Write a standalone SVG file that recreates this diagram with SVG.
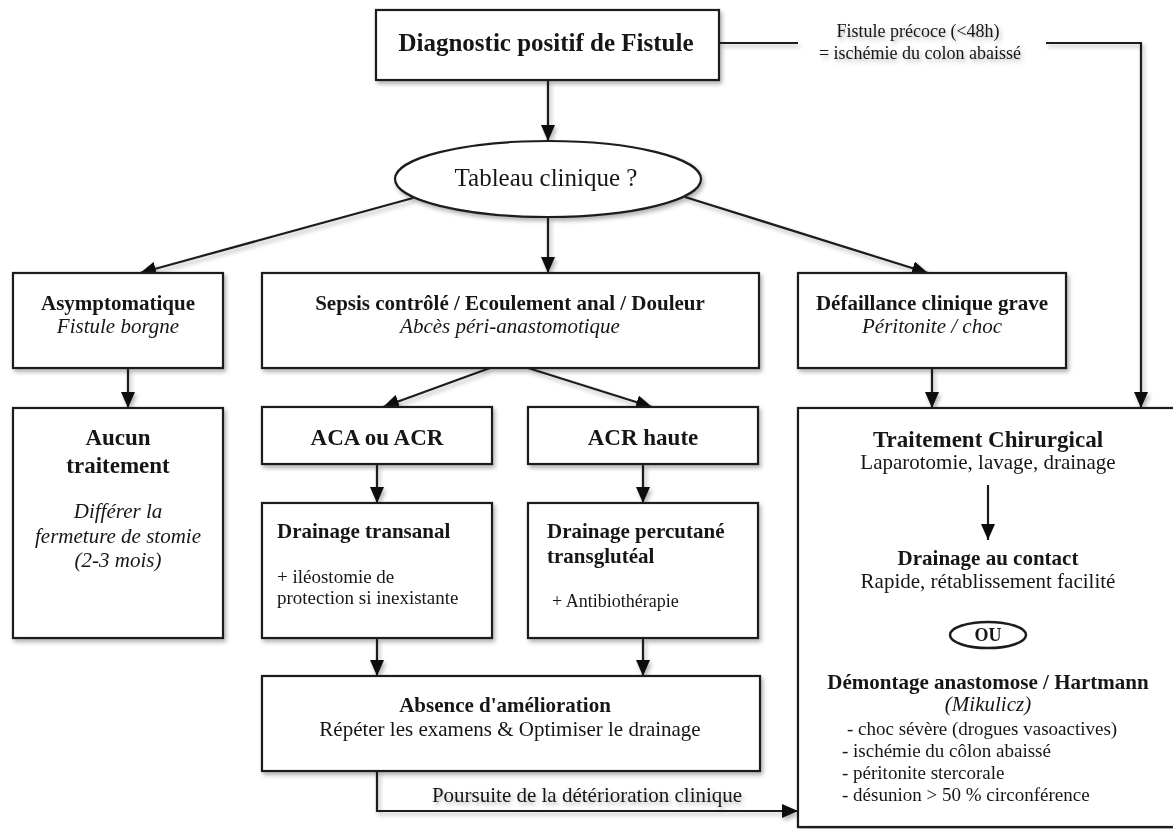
<svg xmlns="http://www.w3.org/2000/svg" width="1173" height="829" viewBox="0 0 1173 829">
  <defs>
    <filter id="soft" x="-5%" y="-20%" width="110%" height="140%">
      <feDropShadow dx="2" dy="3" stdDeviation="2" flood-color="#000" flood-opacity="0.3"/>
    </filter>
    <marker id="arr" viewBox="0 0 16 14" refX="16" refY="7" markerWidth="16" markerHeight="14" markerUnits="userSpaceOnUse" orient="auto">
      <path d="M0,0 L16,7 L0,14 z" fill="#111"/>
    </marker>
  </defs>
  <style>
    text { font-family: "Liberation Serif", "Times New Roman", serif; fill: #161616; }
    .box { fill: #fff; stroke: #1e1e1e; stroke-width: 2.2; }
    .b { font-weight: bold; }
    .i { font-style: italic; }
    .c { text-anchor: middle; }
    .edge { fill: none; stroke: #1e1e1e; stroke-width: 2.2; }
  </style>
  <rect width="1173" height="829" fill="#fff"/>

  <g filter="url(#soft)">
    <!-- connectors -->
    <g id="connectors">
      <path class="edge" d="M548,80 V141" marker-end="url(#arr)"/>
      <path class="edge" d="M413,198 L140,273" marker-end="url(#arr)"/>
      <path class="edge" d="M548,217 V273" marker-end="url(#arr)"/>
      <path class="edge" d="M685,197 L928,273" marker-end="url(#arr)"/>
      <path class="edge" d="M719,43 H798"/>
      <path class="edge" d="M1046,43 H1141 V408" marker-end="url(#arr)"/>
      <path class="edge" d="M128,368 V408" marker-end="url(#arr)"/>
      <path class="edge" d="M932,368 V408" marker-end="url(#arr)"/>
      <path class="edge" d="M490,368 L383,407" marker-end="url(#arr)"/>
      <path class="edge" d="M528,368 L652,407" marker-end="url(#arr)"/>
      <path class="edge" d="M377,464 V503" marker-end="url(#arr)"/>
      <path class="edge" d="M643,464 V503" marker-end="url(#arr)"/>
      <path class="edge" d="M377,638 V676" marker-end="url(#arr)"/>
      <path class="edge" d="M643,638 V676" marker-end="url(#arr)"/>
      <path class="edge" d="M377,771 V811 H798" marker-end="url(#arr)"/>
      <text x="918" y="37" class="c" font-size="18">Fistule précoce (&lt;48h)</text>
      <text x="920" y="59" class="c" font-size="18">= ischémie du colon abaissé</text>
      <text x="587" y="802" class="c" font-size="21">Poursuite de la détérioration clinique</text>
    </g>

    <!-- diagnosis -->
    <g id="diagnostic">
      <rect class="box" x="376" y="10" width="343" height="70"/>
      <text x="546" y="51" class="c b" font-size="25">Diagnostic positif de Fistule</text>
    </g>

    <g id="tableau">
      <ellipse cx="548" cy="179" rx="153" ry="38" fill="#fff" stroke="#1e1e1e" stroke-width="2.2"/>
      <text x="546" y="186" class="c" font-size="25">Tableau clinique ?</text>
    </g>

    <g id="asymptomatique">
      <rect class="box" x="13" y="273" width="210" height="95"/>
      <text x="118" y="310" class="c b" font-size="21">Asymptomatique</text>
      <text x="118" y="333" class="c i" font-size="21">Fistule borgne</text>
    </g>

    <g id="sepsis">
      <rect class="box" x="262" y="273" width="497" height="95"/>
      <text x="510" y="310" class="c b" font-size="21">Sepsis contrôlé / Ecoulement anal / Douleur</text>
      <text x="510" y="333" class="c i" font-size="21">Abcès péri-anastomotique</text>
    </g>

    <g id="defaillance">
      <rect class="box" x="798" y="273" width="268" height="95"/>
      <text x="932" y="310" class="c b" font-size="21">Défaillance clinique grave</text>
      <text x="932" y="333" class="c i" font-size="21">Péritonite / choc</text>
    </g>

    <g id="aucun">
      <rect class="box" x="13" y="408" width="210" height="230"/>
      <text x="118" y="445" class="c b" font-size="23">Aucun</text>
      <text x="118" y="473" class="c b" font-size="23">traitement</text>
      <text x="118" y="518" class="c i" font-size="21">Différer la</text>
      <text x="118" y="543" class="c i" font-size="21">fermeture de stomie</text>
      <text x="118" y="567" class="c i" font-size="21">(2-3 mois)</text>
    </g>

    <g id="aca">
      <rect class="box" x="262" y="407" width="230" height="57"/>
      <text x="377" y="445" class="c b" font-size="23">ACA ou ACR</text>
    </g>

    <g id="acr-haute">
      <rect class="box" x="528" y="407" width="230" height="57"/>
      <text x="643" y="445" class="c b" font-size="23">ACR haute</text>
    </g>

    <g id="drainage-transanal">
      <rect class="box" x="262" y="503" width="230" height="135"/>
      <text x="277" y="538" class="b" font-size="21">Drainage transanal</text>
      <text x="277" y="583" font-size="19">+ iléostomie de</text>
      <text x="277" y="604" font-size="19">protection si inexistante</text>
    </g>

    <g id="drainage-percutane">
      <rect class="box" x="528" y="503" width="230" height="135"/>
      <text x="547" y="538" class="b" font-size="21">Drainage percutané</text>
      <text x="547" y="563" class="b" font-size="21">transglutéal</text>
      <text x="552" y="607" font-size="18">+ Antibiothérapie</text>
    </g>

    <g id="absence">
      <rect class="box" x="262" y="676" width="498" height="95"/>
      <text x="505" y="712" class="c b" font-size="21">Absence d'amélioration</text>
      <text x="510" y="736" class="c" font-size="21">Répéter les examens &amp; Optimiser le drainage</text>
    </g>

    <g id="traitement-chirurgical">
      <rect class="box" x="798" y="408" width="390" height="419"/>
      <text x="988" y="447" class="c b" font-size="23">Traitement Chirurgical</text>
      <text x="988" y="469" class="c" font-size="21">Laparotomie, lavage, drainage</text>
      <path class="edge" d="M988,485 V540" marker-end="url(#arr)"/>
      <text x="988" y="565" class="c b" font-size="21">Drainage au contact</text>
      <text x="988" y="588" class="c" font-size="21">Rapide, rétablissement facilité</text>
      <ellipse cx="988" cy="635" rx="38" ry="13" fill="#fff" stroke="#1e1e1e" stroke-width="2.5"/>
      <text x="988" y="641" class="c b" font-size="18">OU</text>
      <text x="988" y="689" class="c b" font-size="21">Démontage anastomose / Hartmann</text>
      <text x="988" y="711" class="c i" font-size="21">(Mikulicz)</text>
      <text x="847" y="735" font-size="19">- choc sévère (drogues vasoactives)</text>
      <text x="842" y="757" font-size="19">- ischémie du côlon abaissé</text>
      <text x="842" y="779" font-size="19">- péritonite stercorale</text>
      <text x="842" y="801" font-size="19">- désunion &gt; 50 % circonférence</text>
    </g>
  </g>
</svg>
